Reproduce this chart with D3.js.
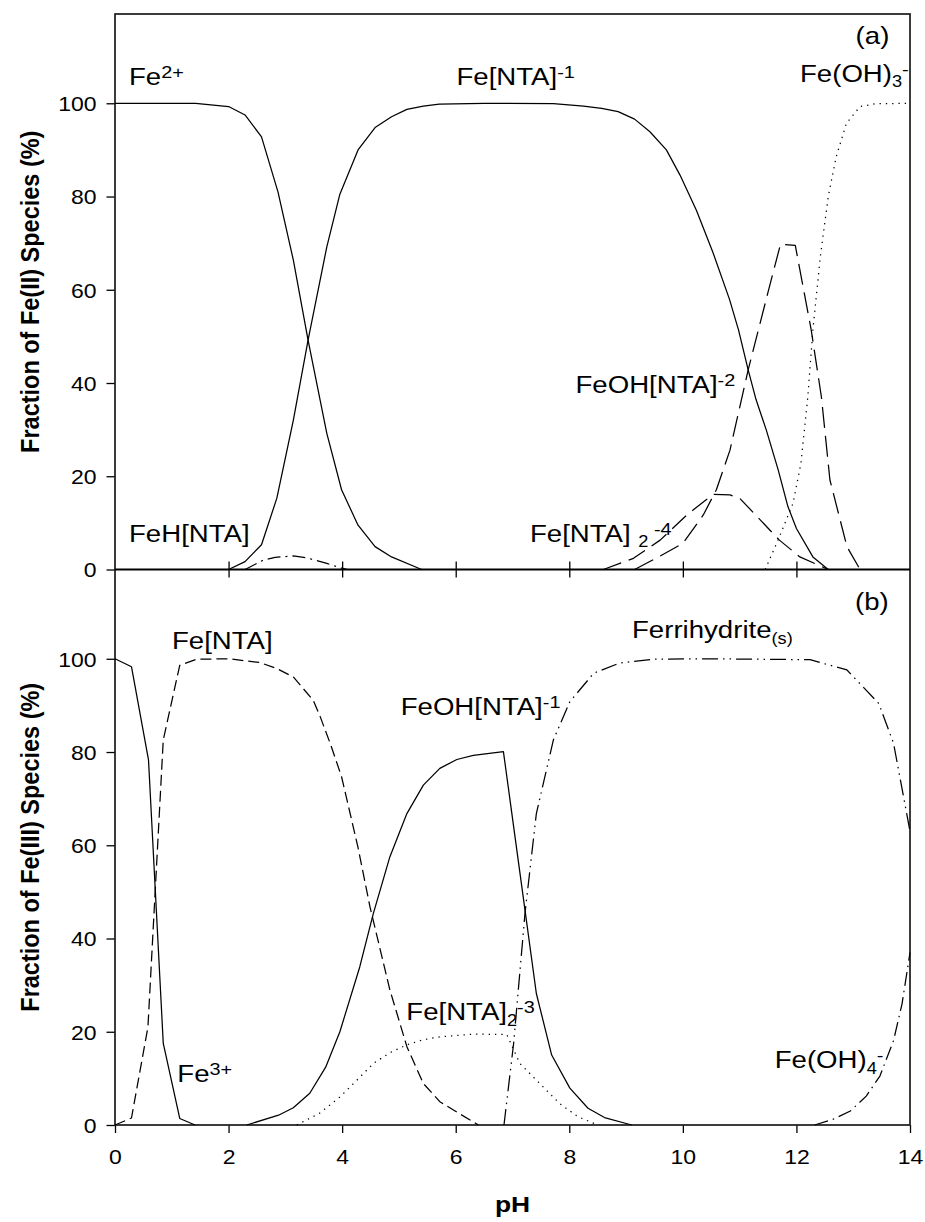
<!DOCTYPE html>
<html><head><meta charset="utf-8">
<script src="https://cdn.jsdelivr.net/npm/d3@7"></script>
<style>
html,body{margin:0;padding:0;background:#fff;}
svg{display:block;font-family:"Liberation Sans",Arial,sans-serif;}
text{white-space:pre;}
</style></head>
<body>
<svg id="chart" width="925" height="1222"></svg>
<script>
// ---------- DATA: [pH, % of species] ----------
// Panel (a): Fe(II)
const fe2      = [[0,100],[1.42,100],[2.0,99.3],[2.29,97.5],[2.58,92.8],[2.87,81],[3.14,66.4],[3.40,49.2],[3.73,29.2],[3.99,17.1],[4.28,9.5],[4.58,4.9],[4.87,2.7],[5.40,0]];
const feNTA_1  = [[2.0,0],[2.29,1.7],[2.58,5.3],[2.85,15.3],[3.14,32],[3.40,49.2],[3.73,69.2],[3.96,80.5],[4.28,90],[4.58,94.8],[4.87,97.1],[5.14,98.7],[5.43,99.4],[5.71,99.8],[6.5,100],[7.72,99.9],[8.25,99.4],[8.57,98.9],[8.86,98.2],[9.15,96.6],[9.42,93.9],[9.71,90],[9.95,84.6],[10.24,77],[10.53,68],[10.82,58],[10.98,51.4],[11.15,42.8],[11.29,36.4],[11.47,29.9],[11.68,21.3],[11.85,13.5],[12.0,8.8],[12.29,2.7],[12.56,0]];
const feHNTA   = [[2.29,0],[2.61,2.0],[2.82,2.6],[3.14,2.9],[3.38,2.5],[3.73,1.3],[3.99,0.3],[4.1,0]];
const feNTA2_4 = [[8.6,0],[9.13,2.4],[9.6,6.3],[10.07,11.7],[10.36,14.5],[10.54,16.1],[10.83,16.0],[11.0,15.3],[11.35,10.8],[11.7,6.3],[12.06,2.7],[12.56,0]];
const feOHNTA_2= [[9.15,0],[9.6,2.9],[10.0,5.6],[10.36,11.7],[10.59,17.1],[10.83,25.6],[11.15,42.8],[11.33,51.4],[11.5,59.5],[11.72,69.8],[11.98,69.5],[12.26,51.4],[12.44,37],[12.59,19.2],[12.89,4.9],[13.12,0]];
const feOH3    = [[11.45,0],[11.7,7],[11.94,14.2],[12.08,22.8],[12.2,37],[12.29,51.4],[12.42,67],[12.56,80],[12.7,88.5],[12.88,95.7],[13.12,99.3],[13.4,99.9],[14,100]];
// Panel (b): Fe(III)
const fe3      = [[0,100],[0.29,98.3],[0.59,78.3],[0.85,17.5],[1.14,1.4],[1.41,0]];
const feNTA    = [[0,0],[0.29,1.5],[0.58,21],[0.85,82.6],[1.14,98.6],[1.44,99.9],[2.0,100],[2.55,99.2],[2.85,97.9],[3.14,96.1],[3.49,91.1],[3.61,87.7],[3.8,81.5],[3.99,74.7],[4.28,59.5],[4.49,46.8],[4.84,29],[5.14,16.8],[5.43,8.9],[5.72,5.0],[5.96,3.2],[6.4,0]];
const feOHNTA_1= [[2.32,0],[2.88,2.1],[3.14,3.7],[3.43,6.8],[3.71,12.4],[3.96,20.0],[4.31,33.9],[4.55,45.4],[4.84,57.5],[5.14,66.8],[5.43,72.9],[5.72,76.5],[6.02,78.4],[6.31,79.3],[6.84,80.1],[7.42,28.2],[7.69,15.0],[8.01,7.9],[8.33,3.6],[8.62,1.6],[9.1,0]];
const feNTA2_3 = [[3.2,0],[3.6,2.5],[3.96,6],[4.25,9.5],[4.55,13.2],[4.84,15.5],[5.14,17.2],[5.43,18.3],[5.72,18.9],[6.31,19.5],[6.9,19.4],[7.13,13.2],[7.48,8.9],[7.83,4.6],[8.15,1.8],[8.5,0]];
const ferri    = [[6.85,0],[7.02,17.5],[7.22,45.4],[7.42,66.8],[7.72,82.6],[8.01,90.8],[8.43,96.9],[8.89,99.1],[9.48,99.9],[10.5,100],[12.24,99.8],[12.89,97.6],[13.45,90.4],[13.71,81.9],[14,63]];
const feOH4    = [[12.32,0],[12.64,1.2],[12.95,3],[13.23,6.2],[13.47,10.5],[13.71,18.1],[13.86,26],[14,37]];

const xTicks = [0,2,4,6,8,10,12,14];
const yTicks = [0,20,40,60,80,100];
const xTitle = "pH";
const yTitleA = "Fraction of Fe(II) Species (%)";
const yTitleB = "Fraction of Fe(III) Species (%)";

// ---------- LAYOUT ----------
const X0 = 115, X1 = 910;
const A_TOP = 14, A_BOT = 569.5, B_BOT = 1125;
const YMAX = 119.15;
const SX = 1.15;           // horizontal stretch of label text
const TSX = 1.15;          // horizontal stretch of tick labels
const TFS = 20;            // tick label font size
const svg = d3.select("#chart");

const x = d3.scaleLinear().domain([0,14]).range([X0,X1]);
const yA = d3.scaleLinear().domain([0,YMAX]).range([A_BOT,A_TOP]);
const yB = d3.scaleLinear().domain([0,YMAX]).range([B_BOT,A_BOT]);

function styleTickText(g, dy){
  g.selectAll(".tick text").each(function(){
    const t = d3.select(this);
    const tx = +t.attr("x") || 0, ty = +t.attr("y") || 0;
    t.attr("x",0).attr("y",0).attr("dy",dy)
     .attr("font-size",TFS).attr("fill","#000")
     .attr("font-family","Liberation Sans, Arial, sans-serif")
     .attr("transform",`translate(${tx},${ty}) scale(${TSX},1)`);
  });
}

function yAxis(y){
  const g = svg.append("g").attr("transform",`translate(${X0},0)`)
    .call(d3.axisLeft(y).tickValues(yTicks).tickSize(8.5).tickPadding(10).tickFormat(d3.format("d")));
  g.select(".domain").remove();
  g.selectAll(".tick line").attr("stroke","#000").attr("stroke-width",1.3);
  styleTickText(g, "0.37em");
}
yAxis(yA); yAxis(yB);

// x ticks in the middle (both directions), no labels
const mid = [2,4,6,8,10,12];
[d3.axisBottom, d3.axisTop].forEach(ax=>{
  const g = svg.append("g").attr("transform",`translate(0,${A_BOT})`)
    .call(ax(x).tickValues(mid).tickSize(8).tickFormat(""));
  g.select(".domain").remove();
  g.selectAll(".tick line").attr("stroke","#000").attr("stroke-width",1.3);
});
// bottom x axis with labels
{
  const g = svg.append("g").attr("transform",`translate(0,${B_BOT})`)
    .call(d3.axisBottom(x).tickValues(xTicks).tickSize(8).tickPadding(17).tickFormat(d3.format("d")));
  g.select(".domain").remove();
  g.selectAll(".tick line").attr("stroke","#000").attr("stroke-width",1.3);
  styleTickText(g, "0.71em");
}

// frame lines
const frame = svg.append("g").attr("stroke","#1a1a1a").attr("stroke-width",1.7).attr("fill","none");
frame.append("rect").attr("x",X0).attr("y",A_TOP).attr("width",X1-X0).attr("height",B_BOT-A_TOP);
frame.append("line").attr("x1",X0).attr("x2",X1).attr("y1",A_BOT).attr("y2",A_BOT).attr("stroke","#000").attr("stroke-width",1.8);

// curves
const lineA = d3.line().x(d=>x(d[0])).y(d=>yA(d[1]));
const lineB = d3.line().x(d=>x(d[0])).y(d=>yB(d[1]));
const series = [
  [fe2, lineA, null],
  [feNTA_1, lineA, null],
  [feHNTA, lineA, "13,5,2,5"],
  [feNTA2_4, lineA, "19,8"],
  [feOHNTA_2, lineA, "21,8"],
  [feOH3, lineA, "1.3,5"],
  [fe3, lineB, null],
  [feNTA, lineB, "11,5"],
  [feOHNTA_1, lineB, null],
  [feNTA2_3, lineB, "1.3,5"],
  [ferri, lineB, "16,5,1.5,5,1.5,5"],
  [feOH4, lineB, "14,5,1.5,5"]
];
series.forEach(([data, gen, dash])=>{
  const p = svg.append("path").datum(data).attr("d",gen)
    .attr("fill","none").attr("stroke","#000").attr("stroke-width",1.25).attr("stroke-linejoin","round");
  if(dash) p.attr("stroke-dasharray",dash);
});

// rich text labels
function label(px, py, parts, size){
  const t = svg.append("text").attr("transform",`translate(${px},${py}) scale(${SX},1)`)
    .attr("font-size",size).attr("fill","#000");
  parts.forEach(p=>{
    const [s,kind] = Array.isArray(p) ? p : [p,"n"];
    const ts = t.append("tspan").text(s);
    if(kind==="sup") ts.attr("y",-0.3*size).attr("font-size",size*0.72);
    else if(kind==="sub") ts.attr("y",0.24*size).attr("font-size",size*0.66);
    else ts.attr("y",0);
  });
  return t;
}
const LS = 24;
label(129, 85, ["Fe",["2+","sup"]], LS);
label(456.5, 85, ["Fe[NTA]",["-1","sup"]], LS);
label(800, 81.7, ["Fe(OH)",["3","sub"],["-","sup"]], LS);
label(855.6, 43.5, ["(a)"], LS);
label(129, 542.3, ["FeH[NTA]"], LS);
label(575.5, 393.3, ["FeOH[NTA]",["-2","sup"]], LS);
label(530, 541.7, ["Fe[NTA] ",["2","sub"],[" -4","sup"]], LS);
label(855, 610, ["(b)"], LS);
label(632, 638.3, ["Ferrihydrite",["(s)","sub"]], LS);
label(172, 649.3, ["Fe[NTA]"], LS);
label(400.7, 715, ["FeOH[NTA]",["-1","sup"]], LS);
label(406.3, 1020, ["Fe[NTA]",["2","sub"],["-3","sup"]], LS);
label(177.3, 1081.7, ["Fe",["3+","sup"]], LS);
label(774.7, 1068.3, ["Fe(OH)",["4","sub"],["-","sup"]], LS);

// axis titles
svg.append("text").attr("transform",`translate(${(X0+X1)/2},1211.7) scale(1.2,1)`)
  .attr("text-anchor","middle").attr("font-size",22).attr("font-weight","bold").text(xTitle);
svg.append("text").attr("transform",`translate(39,${(A_TOP+A_BOT)/2}) rotate(-90) scale(1,1.1)`)
  .attr("text-anchor","middle").attr("font-size",23.5).attr("font-weight","bold").text(yTitleA);
svg.append("text").attr("transform",`translate(39,${(A_BOT+B_BOT)/2}) rotate(-90) scale(1,1.1)`)
  .attr("text-anchor","middle").attr("font-size",23.5).attr("font-weight","bold").text(yTitleB);
</script>
</body></html>
